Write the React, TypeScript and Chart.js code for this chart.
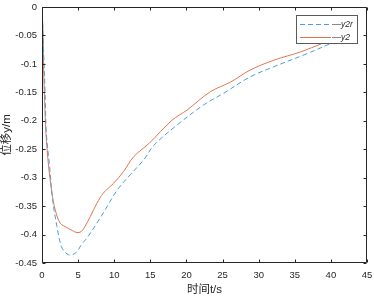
import React, { useEffect, useRef } from "react";
import { Chart, registerables } from "chart.js";

Chart.register(...registerables);

// ---- data ----
const tY2r = [0, 0.22, 0.46, 0.6, 1.06, 1.47, 2.07, 2.6, 3.0, 3.69, 4.3, 4.85, 5.5, 6.23, 7.6, 9.0, 10.4, 12.2, 14.07, 15.5, 18.7, 22.4, 25.1, 28.8, 32.1, 36.7, 40];
const y2r = [0, -0.076, -0.164, -0.222, -0.281, -0.339, -0.386, -0.418, -0.428, -0.4356, -0.435, -0.43, -0.417, -0.406, -0.38, -0.351, -0.322, -0.295, -0.269, -0.243, -0.2075, -0.172, -0.152, -0.123, -0.105, -0.082, -0.064];

const tY2 = [0, 0.14, 0.22, 0.36, 0.55, 0.92, 1.38, 1.84, 2.53, 3.5, 4.2, 4.85, 5.4, 5.9, 6.7, 7.6, 8.5, 9.9, 11.3, 12.7, 14.8, 18, 20.1, 23.3, 26.1, 28.8, 32.1, 35.8, 38.8, 40];
const y2 = [0, -0.046, -0.105, -0.164, -0.222, -0.281, -0.327, -0.357, -0.38, -0.388, -0.393, -0.3965, -0.395, -0.387, -0.368, -0.345, -0.327, -0.31, -0.289, -0.263, -0.24, -0.199, -0.181, -0.149, -0.132, -0.111, -0.0935, -0.079, -0.064, -0.058];

const seriesNames = ["y2r", "y2"];
const seriesColors = ["#4d9fdc", "#e5744c"];

const xTicks = [0, 5, 10, 15, 20, 25, 30, 35, 40, 45];
const xTickLabels = ["0", "5", "10", "15", "20", "25", "30", "35", "40", "45"];
const yTicks = [0, -0.05, -0.1, -0.15, -0.2, -0.25, -0.3, -0.35, -0.4, -0.45];
const yTickLabels = ["0", "-0.05", "-0.1", "-0.15", "-0.2", "-0.25", "-0.3", "-0.35", "-0.4", "-0.45"];

const xTitle = "时间t/s";
const yTitle = "位移y/m";

const FONT = "'Liberation Sans', Arial, 'Noto Sans CJK SC', sans-serif";
const AXIS = "#262626";

const framePlugin = {
  id: "matlabFrame",
  afterDatasetsDraw(chart: any) {
    const { ctx, chartArea, scales } = chart;
    const { left, right, top, bottom } = chartArea;
    const L = Math.round(left) + 0.5;
    const R = Math.round(right) - 0.5;
    const T = Math.round(top) + 0.5;
    const B = Math.round(bottom) - 0.5;
    ctx.save();
    ctx.strokeStyle = AXIS;
    ctx.lineWidth = 1;
    ctx.setLineDash([]);
    ctx.beginPath();
    ctx.rect(L, T, R - L, B - T);
    ctx.stroke();
    const tl = 3;
    ctx.beginPath();
    for (const v of xTicks) {
      const x = Math.round(scales.x.getPixelForValue(v)) + 0.5;
      ctx.moveTo(x, B);
      ctx.lineTo(x, B - tl);
      ctx.moveTo(x, T);
      ctx.lineTo(x, T + tl);
    }
    for (const v of yTicks) {
      const y = Math.round(scales.y.getPixelForValue(v)) + 0.5;
      ctx.moveTo(L, y);
      ctx.lineTo(L + tl, y);
      ctx.moveTo(R, y);
      ctx.lineTo(R - tl, y);
    }
    ctx.stroke();

    // legend box inside the plot (top-right)
    const bx = 296.5, by = 15.5, bw = 61, bh = 28;
    ctx.fillStyle = "#ffffff";
    ctx.fillRect(bx, by, bw, bh);
    ctx.strokeStyle = "#5a5a5a";
    ctx.strokeRect(bx, by, bw, bh);
    seriesNames.forEach((name, i) => {
      const y = Math.round(24 + i * 13) + 0.5;
      ctx.strokeStyle = seriesColors[i];
      ctx.lineWidth = 1;
      ctx.setLineDash(i === 0 ? [5, 3] : []);
      ctx.beginPath();
      ctx.moveTo(300, y);
      ctx.lineTo(331, y);
      ctx.stroke();
      ctx.setLineDash([]);
      ctx.strokeStyle = "#8a8a8a";
      ctx.beginPath();
      ctx.moveTo(332, y);
      ctx.lineTo(341, y);
      ctx.stroke();
      ctx.fillStyle = AXIS;
      ctx.font = `italic 8.5px ${FONT}`;
      ctx.textAlign = "left";
      ctx.textBaseline = "middle";
      ctx.fillText(name, 341, y + 0.5);
    });
    ctx.restore();
  },
};

export default function App() {
  const ref = useRef<HTMLCanvasElement | null>(null);
  useEffect(() => {
    document.body.style.margin = "0";
    const canvas = ref.current!;
    const chart = new Chart(canvas, {
      type: "line",
      data: {
        datasets: [
          {
            label: seriesNames[0],
            data: tY2r.map((t, i) => ({ x: t, y: y2r[i] })),
            borderColor: seriesColors[0],
            borderWidth: 1,
            borderDash: [5, 3],
            pointRadius: 0,
            tension: 0.35,
            fill: false,
          },
          {
            label: seriesNames[1],
            data: tY2.map((t, i) => ({ x: t, y: y2[i] })),
            borderColor: seriesColors[1],
            borderWidth: 1,
            pointRadius: 0,
            tension: 0.35,
            fill: false,
          },
        ],
      },
      options: {
        animation: false,
        responsive: false,
        maintainAspectRatio: false,
        layout: { padding: { left: 0, right: 7, top: 7, bottom: 0 } },
        plugins: { legend: { display: false }, tooltip: { enabled: false } },
        scales: {
          x: {
            type: "linear",
            min: 0,
            max: 45,
            afterBuildTicks: (s: any) => {
              s.ticks = xTicks.map((v) => ({ value: v }));
            },
            afterFit: (s: any) => {
              s.height = 34;
              s.paddingLeft = 0;
              s.paddingRight = 0;
              s.paddingTop = 0;
              s.paddingBottom = 0;
            },
            ticks: {
              autoSkip: false,
              maxRotation: 0,
              padding: 7,
              color: AXIS,
              font: { family: FONT, size: 9.5 },
              callback: (_v: any, i: number) => xTickLabels[i],
            },
            grid: { display: false, drawTicks: false },
            border: { display: false },
            title: {
              display: true,
              text: xTitle,
              color: AXIS,
              font: { family: FONT, size: 11.5 },
              padding: { top: 0, bottom: 0 },
            },
          },
          y: {
            type: "linear",
            min: -0.45,
            max: 0,
            afterBuildTicks: (s: any) => {
              s.ticks = yTicks.map((v) => ({ value: v }));
            },
            afterFit: (s: any) => {
              s.width = 42;
              s.paddingLeft = 0;
              s.paddingRight = 0;
              s.paddingTop = 0;
              s.paddingBottom = 0;
            },
            ticks: {
              autoSkip: false,
              padding: 5,
              color: AXIS,
              font: { family: FONT, size: 9.5 },
              callback: (_v: any, i: number) => yTickLabels[i],
            },
            grid: { display: false, drawTicks: false },
            border: { display: false },
            title: {
              display: true,
              text: yTitle,
              color: AXIS,
              font: { family: FONT, size: 11.5 },
              padding: { top: 0, bottom: 0 },
            },
          },
        },
      },
      plugins: [framePlugin],
    } as any);
    return () => chart.destroy();
  }, []);
  return (
    <div style={{ position: "relative", width: 374, height: 297, background: "#fff" }}>
      <canvas ref={ref} width={374} height={297} style={{ width: 374, height: 297, display: "block" }} />
    </div>
  );
}
